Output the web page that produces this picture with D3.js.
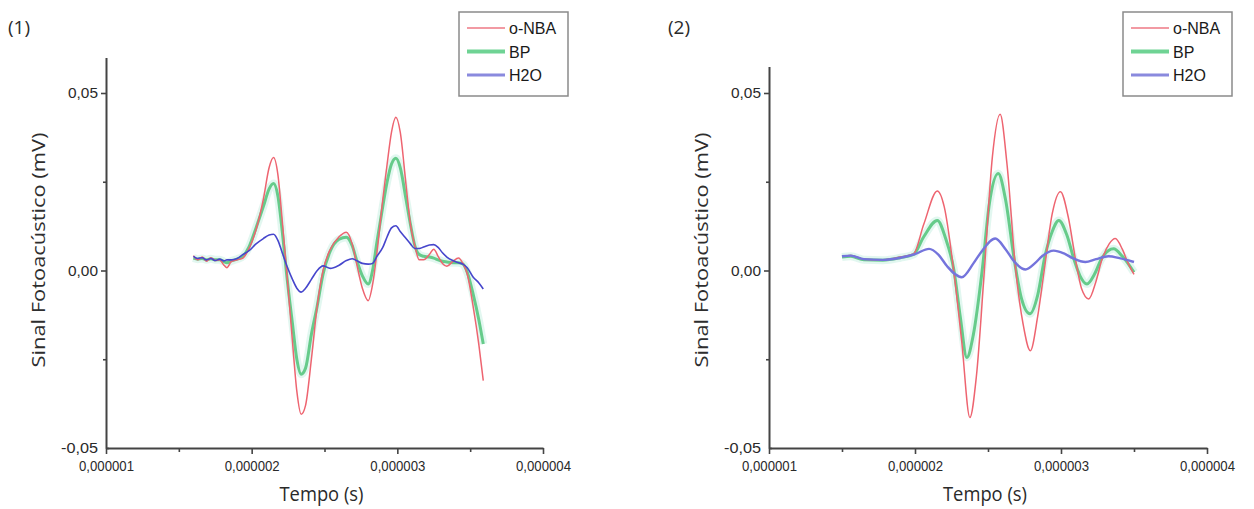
<!DOCTYPE html>
<html>
<head>
<meta charset="utf-8">
<script src="https://cdn.jsdelivr.net/npm/d3@7"></script>
<style>
  body { margin: 0; background: #fff; }
</style>
</head>
<body>
<div id="chart"></div>
<script>
// tempo em microssegundos (eixo mostra em segundos)
var series = ["o-NBA", "BP", "H2O"];
var xTicks = [1e-6, 2e-6, 3e-6, 4e-6];
var xTickLabels = ["0,000001", "0,000002", "0,000003", "0,000004"];
var yTicks = [-0.05, 0, 0.05];
var yTickLabels = ["-0,05", "0,00", "0,05"];

// painel (1)
var tempo1 = [1.60,1.63,1.66,1.69,1.72,1.75,1.78,1.81,1.83,1.86,1.90,1.94,1.98,2.03,2.08,2.12,2.15,2.18,2.21,2.24,
  2.28,2.31,2.34,2.37,2.41,2.45,2.49,2.54,2.60,2.65,2.69,2.72,2.76,2.80,2.83,2.86,2.90,2.93,2.96,2.99,
  3.02,3.06,3.09,3.12,3.15,3.18,3.22,3.25,3.28,3.31,3.34,3.38,3.42,3.45,3.48,3.52,3.56,3.59];
var nba1 = [0.0042,0.0030,0.0038,0.0026,0.0036,0.0028,0.0030,0.0015,0.0008,0.0025,0.0030,0.0035,0.0060,0.0115,0.0200,0.0290,0.0318,0.0270,0.0140,0.0000,
  -0.0200,-0.0340,-0.0405,-0.0380,-0.0250,-0.0100,0.0000,0.0060,0.0095,0.0108,0.0075,0.0020,-0.0050,-0.0085,-0.0040,0.0050,0.0200,0.0300,0.0390,0.0432,
  0.0390,0.0240,0.0130,0.0070,0.0030,0.0030,0.0045,0.0060,0.0040,0.0020,0.0012,0.0025,0.0035,0.0020,-0.0010,-0.0100,-0.0210,-0.0310];
var bp1 = [0.0035,0.0032,0.0034,0.0030,0.0033,0.0030,0.0030,0.0025,0.0022,0.0027,0.0032,0.0040,0.0065,0.0120,0.0180,0.0230,0.0245,0.0210,0.0110,-0.0010,
  -0.0150,-0.0250,-0.0292,-0.0275,-0.0180,-0.0100,-0.0010,0.0055,0.0088,0.0094,0.0070,0.0030,-0.0015,-0.0038,0.0000,0.0080,0.0180,0.0250,0.0300,0.0316,
  0.0290,0.0200,0.0130,0.0070,0.0045,0.0040,0.0038,0.0035,0.0030,0.0026,0.0024,0.0022,0.0022,0.0018,-0.0005,-0.0066,-0.0140,-0.0207];
var h2o1 = [0.0040,0.0034,0.0036,0.0030,0.0034,0.0028,0.0032,0.0027,0.0030,0.0030,0.0034,0.0045,0.0055,0.0075,0.0090,0.0100,0.0102,0.0085,0.0050,0.0015,
  -0.0025,-0.0050,-0.0061,-0.0050,-0.0025,0.0000,0.0013,0.0006,0.0015,0.0028,0.0033,0.0028,0.0020,0.0018,0.0020,0.0040,0.0065,0.0095,0.0120,0.0126,
  0.0110,0.0090,0.0075,0.0062,0.0062,0.0066,0.0072,0.0073,0.0065,0.0050,0.0038,0.0028,0.0022,0.0018,0.0008,-0.0018,-0.0035,-0.0052];

// painel (2)
var tempoNba2 = [1.50,1.56,1.65,1.78,1.90,1.99,2.06,2.153,2.20,2.265,2.32,2.376,2.42,2.475,2.53,2.583,2.63,2.69,2.74,2.79,
  2.84,2.885,2.94,2.996,3.05,3.10,3.14,3.19,3.24,3.28,3.33,3.372,3.42,3.46,3.50];
var nba2 = [0.0040,0.0042,0.0032,0.0030,0.0038,0.0047,0.0130,0.0224,0.0180,0.0000,-0.0200,-0.0414,-0.0300,0.0000,0.0320,0.0440,0.0300,0.0000,-0.0150,-0.0226,
  -0.0130,0.0000,0.0160,0.0222,0.0150,0.0030,-0.0050,-0.0080,-0.0030,0.0030,0.0075,0.0090,0.0060,0.0020,-0.0011];
var tempoBp2 = [1.50,1.56,1.65,1.78,1.90,1.99,2.06,2.153,2.21,2.267,2.31,2.355,2.40,2.46,2.51,2.57,2.62,2.68,2.73,2.787,
  2.84,2.89,2.94,2.985,3.04,3.09,3.13,3.178,3.23,3.28,3.36,3.42,3.50];
var bp2 = [0.0038,0.0040,0.0030,0.0029,0.0036,0.0045,0.0095,0.0141,0.0090,0.0000,-0.0130,-0.0245,-0.0180,0.0000,0.0190,0.0273,0.0200,0.0030,-0.0080,-0.0122,
  -0.0070,0.0040,0.0110,0.0141,0.0100,0.0030,-0.0015,-0.0038,-0.0010,0.0035,0.0061,0.0040,-0.0005];
var tempoH2o2 = [1.50,1.56,1.65,1.78,1.90,2.00,2.096,2.16,2.22,2.32,2.40,2.45,2.55,2.62,2.68,2.757,2.82,2.87,2.95,3.02,
  3.08,3.167,3.24,3.326,3.40,3.50];
var h2o2 = [0.0040,0.0042,0.0032,0.0030,0.0036,0.0046,0.0061,0.0045,0.0012,-0.0019,0.0020,0.0050,0.0090,0.0060,0.0025,0.0003,0.0020,0.0040,0.0056,0.0048,
  0.0035,0.0024,0.0032,0.0040,0.0035,0.0024];

var W = 1254, H = 509;
var svg = d3.select("#chart").append("svg").attr("width", W).attr("height", H);

function pts(t, v) { return t.map((d, i) => [d * 1e-6, v[i]]); }

var panels = [
  { label: "(1)", labelX: 8, x0: 106, x1: 543, yMax: 0.06, legendX: 459, blue: "#4646cc", blueW: 1.6,
    lines: [pts(tempo1, nba1), pts(tempo1, bp1), pts(tempo1, h2o1)] },
  { label: "(2)", labelX: 668, x0: 769, x1: 1207, yMax: 0.0575, legendX: 1123, blue: "#7474dc", blueW: 2.4,
    lines: [pts(tempoNba2, nba2), pts(tempoBp2, bp2), pts(tempoH2o2, h2o2)] }
];

var yZero = 270.5, yBottom = 448, pxPerUnit = (yBottom - yZero) / 0.05;
var sans = "Liberation Sans, Arial, sans-serif", titleFont = "Open Sans, sans-serif";

panels.forEach(function(p) {
  var x = d3.scaleLinear().domain([1e-6, 4e-6]).range([p.x0, p.x1]);
  var y = d3.scaleLinear().domain([-0.05, p.yMax]).range([yBottom, yBottom - (p.yMax + 0.05) * pxPerUnit]);
  var g = svg.append("g");

  var line = d3.line().x(d => x(d[0])).y(d => y(d[1])).curve(d3.curveMonotoneX);

  // BP (verde com halo)
  g.append("path").datum(p.lines[1]).attr("d", line)
    .attr("fill", "none").attr("stroke", "#d6f3ea").attr("stroke-width", 8).attr("opacity", 0.7);
  g.append("path").datum(p.lines[1]).attr("d", line)
    .attr("fill", "none").attr("stroke", "#66cb8a").attr("stroke-width", 3);
  // o-NBA
  g.append("path").datum(p.lines[0]).attr("d", line)
    .attr("fill", "none").attr("stroke", "#ee6470").attr("stroke-width", 1.5);
  // H2O
  g.append("path").datum(p.lines[2]).attr("d", line)
    .attr("fill", "none").attr("stroke", p.blue).attr("stroke-width", p.blueW);

  // eixo y
  var yAxis = g.append("g").attr("transform", `translate(${p.x0},0)`)
    .call(d3.axisLeft(y).tickValues(yTicks).tickSize(5).tickPadding(3)
      .tickFormat((d, i) => yTickLabels[i]).tickSizeOuter(0));
  yAxis.selectAll(".tick").filter(d => d === -0.05).select("line").attr("x2", 3);
  yAxis.selectAll(".tick text").attr("font-size", 15.5).attr("textLength", d => d < 0 ? 37 : 30)
    .attr("lengthAdjust", "spacingAndGlyphs");
  g.append("g").attr("transform", `translate(${p.x0},0)`)
    .call(d3.axisLeft(y).tickValues([-0.025, 0.025]).tickSize(3).tickFormat("").tickSizeOuter(0))
    .select(".domain").remove();

  // eixo x
  var xAxis = g.append("g").attr("transform", `translate(0,${yBottom})`)
    .call(d3.axisBottom(x).tickValues(xTicks).tickSize(6).tickPadding(6)
      .tickFormat((d, i) => xTickLabels[i]).tickSizeOuter(0));
  xAxis.selectAll(".tick text").attr("font-size", 15.5).attr("textLength", 55)
    .attr("lengthAdjust", "spacingAndGlyphs");
  g.append("g").attr("transform", `translate(0,${yBottom})`)
    .call(d3.axisBottom(x).tickValues([1.5e-6, 2.5e-6, 3.5e-6]).tickSize(4).tickFormat("").tickSizeOuter(0))
    .select(".domain").remove();

  g.selectAll(".domain").attr("stroke", "#444").attr("stroke-width", 2);
  g.selectAll(".tick line").attr("stroke", "#444").attr("stroke-width", 1.6);
  g.selectAll(".tick text").attr("font-family", sans).attr("fill", "#2a2a2a");

  // títulos
  g.append("text").attr("x", (p.x0 + p.x1) / 2 - 3).attr("y", 501)
    .attr("text-anchor", "middle").attr("font-family", titleFont).attr("font-size", 20)
    .attr("textLength", 84).attr("lengthAdjust", "spacingAndGlyphs")
    .attr("fill", "#2a2a2a").text("Tempo (s)");
  g.append("text").attr("transform", `translate(${p.x0 - 61},${250}) rotate(-90)`)
    .attr("text-anchor", "middle").attr("font-family", titleFont).attr("font-size", 17.5)
    .attr("font-weight", 500)
    .attr("textLength", 235).attr("lengthAdjust", "spacingAndGlyphs")
    .attr("fill", "#2e2e2e").text("Sinal Fotoacústico (mV)");
  g.append("text").attr("x", p.labelX).attr("y", 34)
    .attr("font-family", titleFont).attr("font-size", 19).attr("fill", "#2a2a2a").text(p.label);

  // legenda
  var lg = g.append("g").attr("transform", `translate(${p.legendX},12)`);
  lg.append("rect").attr("width", 109).attr("height", 84)
    .attr("fill", "#fff").attr("stroke", "#8a8a8a").attr("stroke-width", 1.5);
  var legColors = ["#f29aa3", "#6fd394", "#8a8ade"], legW = [2, 4, 3];
  series.forEach(function(s, i) {
    var yy = 16 + i * 23.5;
    lg.append("line").attr("x1", 8).attr("x2", 46).attr("y1", yy).attr("y2", yy)
      .attr("stroke", legColors[i]).attr("stroke-width", legW[i]);
    lg.append("text").attr("x", 50).attr("y", yy + 6)
      .attr("font-family", sans).attr("font-size", 16)
      .attr("fill", "#1a1a1a").text(s);
  });
});
</script>
</body>
</html>
